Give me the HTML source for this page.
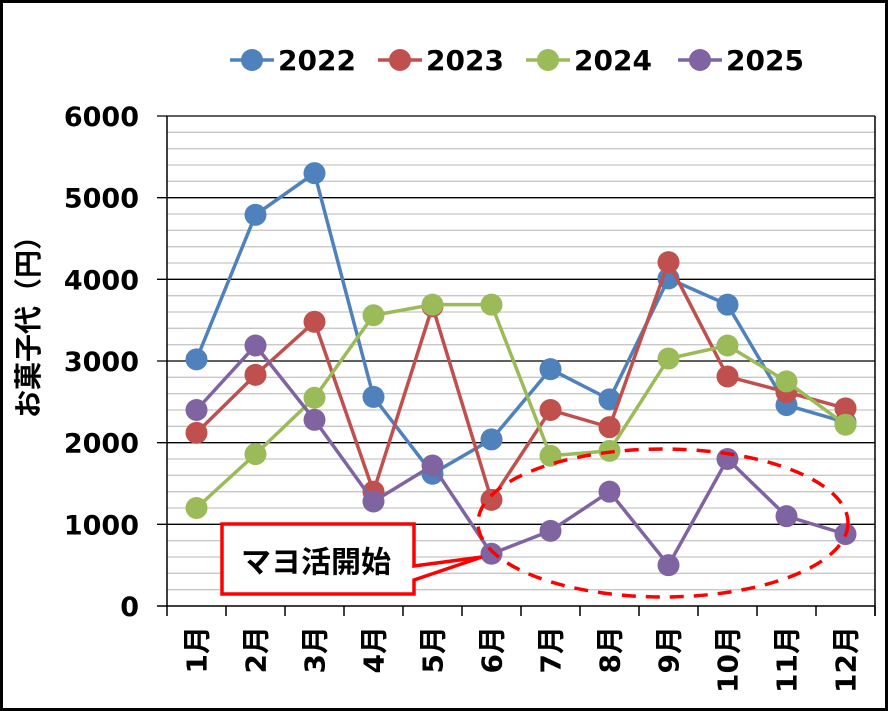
<!DOCTYPE html>
<html><head><meta charset="utf-8"><style>
html,body{margin:0;padding:0;background:#fff}
svg{display:block}
text{font-family:"DejaVu Sans","Noto Sans CJK JP",sans-serif;font-weight:bold;fill:#000}
</style></head><body>
<svg id="s" width="888" height="711" xmlns="http://www.w3.org/2000/svg">
<rect x="1.5" y="1.5" width="885" height="708" fill="#fff" stroke="#000" stroke-width="3"/>
<g id="grid"></g>
<g id="series"></g>
<text x="30" y="320" font-size="28" text-anchor="middle" dominant-baseline="middle" transform="rotate(-90 30 320)">お菓子代（円）</text>
<g id="legend"></g>
<ellipse cx="663" cy="523" rx="185" ry="74" fill="none" stroke="#f00" stroke-width="3.5" stroke-dasharray="14,10"/>
<path d="M222 524 H414 V566 L482 557 L414 580 V594 H222 Z" fill="#fff" stroke="#f00" stroke-width="3.5"/>
<text x="316" y="564" font-size="30" text-anchor="middle" dominant-baseline="middle">マヨ活開始</text>
</svg>
<script>
const NS="http://www.w3.org/2000/svg";
function el(t,a,p,txt){const e=document.createElementNS(NS,t);for(const k in a)e.setAttribute(k,a[k]);if(txt!=null)e.textContent=txt;p.appendChild(e);return e;}
const x0=167,x1=875,y0=606,yt=116,cw=(x1-x0)/12;
const Y=v=>y0-(v/6000)*(y0-yt), X=i=>x0+cw*(i+0.5);
const g=document.getElementById('grid');
for(let v=200;v<6000;v+=200){if(v%1000)el('line',{x1:x0,x2:x1,y1:Y(v),y2:Y(v),stroke:'#c8c8c8','stroke-width':1.3},g);}
for(let v=1000;v<=6000;v+=1000){el('line',{x1:x0-10,x2:x1,y1:Y(v),y2:Y(v),stroke:'#000','stroke-width':1.3},g);}
for(let v=0;v<=6000;v+=1000){el('text',{x:139,y:Y(v)+10,'font-size':27,'text-anchor':'end'},g,String(v));}
el('line',{x1:x0,x2:x0,y1:yt,y2:y0,stroke:'#000','stroke-width':1.5},g);
el('line',{x1:x1,x2:x1,y1:yt,y2:y0+10,stroke:'#000','stroke-width':1.5},g);
el('line',{x1:x0-10,x2:x1,y1:y0,y2:y0,stroke:'#000','stroke-width':1.5},g);
for(let i=0;i<=12;i++){el('line',{x1:x0+cw*i,x2:x0+cw*i,y1:y0,y2:y0+10,stroke:'#000','stroke-width':1.5},g);}
for(let i=0;i<12;i++){const cx=X(i)+10,cy=626;el('text',{x:cx,y:cy,'font-size':28,'text-anchor':'end',transform:`rotate(-90 ${cx} ${cy})`},g,(i+1)+'月');}
const data=[
['2022','#4F81BD',[3020,4790,5300,2560,1620,2040,2900,2530,4010,3690,2460,2250]],
['2023','#C0504D',[2120,2830,3480,1400,3670,1300,2400,2190,4210,2810,2620,2420]],
['2024','#9BBB59',[1200,1860,2550,3560,3690,3690,1840,1900,3030,3190,2750,2220]],
['2025','#8064A2',[2400,3190,2280,1280,1720,640,920,1400,500,1800,1100,880]]];
const s=document.getElementById('series'),L=document.getElementById('legend');
const lx=[252,400,548,700];
data.forEach((d,k)=>{
 el('polyline',{points:d[2].map((v,i)=>X(i)+','+Y(v)).join(' '),fill:'none',stroke:d[1],'stroke-width':3.5},s);
 d[2].forEach((v,i)=>el('circle',{cx:X(i),cy:Y(v),r:11,fill:d[1]},s));
 el('line',{x1:lx[k]-22,x2:lx[k]+22,y1:60,y2:60,stroke:d[1],'stroke-width':3.5},L);
 el('circle',{cx:lx[k],cy:60,r:11,fill:d[1]},L);
 el('text',{x:lx[k]+26,y:70,'font-size':28},L,d[0]);
});
</script>
</body></html>
